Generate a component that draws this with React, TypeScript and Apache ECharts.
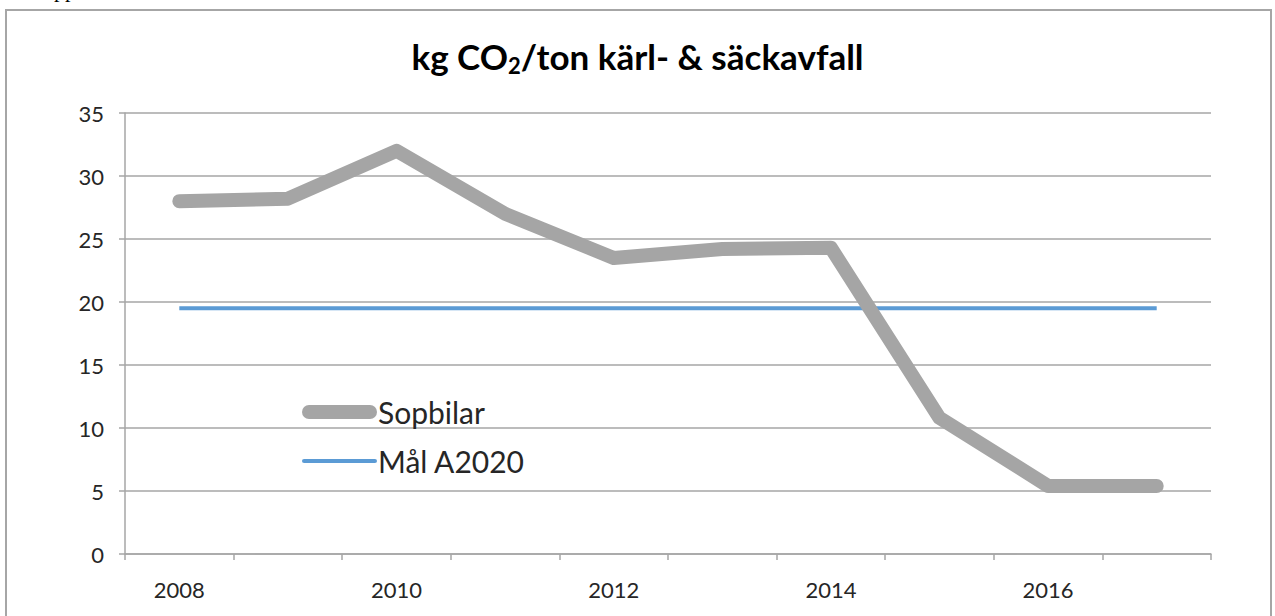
import React, { useEffect, useRef } from "react";
import * as echarts from "echarts";

const years = ["2008", "2009", "2010", "2011", "2012", "2013", "2014", "2015", "2016", "2017"];
const sopbilar = [28.0, 28.2, 32.0, 27.0, 23.5, 24.2, 24.3, 10.8, 5.4, 5.4];
const mal = [19.5, 19.5, 19.5, 19.5, 19.5, 19.5, 19.5, 19.5, 19.5, 19.5];
const seriesNames = ["Sopbilar", "Mål A2020"];

const FONT = "Lato, 'Open Sans', sans-serif";

export default function App() {
  const ref = useRef<HTMLDivElement>(null);
  useEffect(() => {
    if (!ref.current) return;
    const chart = echarts.init(ref.current, null, { renderer: "svg" });
    chart.setOption({
      animation: false,
      backgroundColor: "#ffffff",
      title: {
        text: "kg CO{sub|2}/ton kärl- & säckavfall",
        left: "center",
        top: 36,
        padding: 0,
        textStyle: {
          fontFamily: FONT,
          fontSize: 35,
          fontWeight: "bold",
          color: "#000000",
          rich: {
            sub: {
              fontFamily: FONT,
              fontSize: 22,
              fontWeight: "bold",
              color: "#000000",
              padding: [18, 0, 0, 0],
            },
          },
        },
      },
      graphic: [
        {
          type: "rect",
          shape: { x: 6, y: 10, width: 1265, height: 700 },
          style: { fill: "none", stroke: "#a6a6a6", lineWidth: 2 },
          silent: true,
        },
        {
          type: "text",
          x: 54,
          y: 0,
          style: { text: "pp", font: "22px serif", fill: "#000000", verticalAlign: "bottom" },
          silent: true,
        },
      ],
      legend: {
        orient: "vertical",
        left: 302,
        top: 397,
        padding: 0,
        itemWidth: 75,
        itemHeight: 14,
        itemGap: 19,
        data: [
          {
            name: seriesNames[0],
            icon: "path://M7,0 L68,0 A7,7 0 0 1 68,14 L7,14 A7,7 0 0 1 7,0 Z",
          },
          {
            name: seriesNames[1],
            icon: "path://M2,0 L71,0 A2,2 0 0 1 71,4 L2,4 A2,2 0 0 1 2,0 Z",
          },
        ],
        textStyle: { fontFamily: FONT, fontSize: 30, color: "#262626", padding: [0, 0, 0, -4] },
      },
      grid: { left: 125, right: 64, top: 113, bottom: 62, containLabel: false },
      xAxis: {
        type: "category",
        data: years,
        boundaryGap: true,
        axisLine: { lineStyle: { color: "#a6a6a6", width: 1.5 } },
        axisTick: { show: true, interval: 0, length: 6, lineStyle: { color: "#a6a6a6", width: 1.5 } },
        axisLabel: { interval: 1, margin: 24, fontFamily: FONT, fontSize: 22, color: "#262626" },
        splitLine: { show: false },
      },
      yAxis: {
        type: "value",
        min: 0,
        max: 35,
        interval: 5,
        axisLine: { show: true, lineStyle: { color: "#a6a6a6", width: 1.5 } },
        axisTick: { show: true, length: 6, lineStyle: { color: "#a6a6a6", width: 1.5 } },
        axisLabel: { margin: 21, fontFamily: FONT, fontSize: 22, color: "#262626" },
        splitLine: { lineStyle: { color: "#a6a6a6", width: 1.5 } },
      },
      series: [
        {
          name: seriesNames[0],
          type: "line",
          data: sopbilar,
          symbol: "none",
          lineStyle: { color: "#a5a5a5", width: 14, cap: "round", join: "round" },
          itemStyle: { color: "#a5a5a5" },
          z: 3,
        },
        {
          name: seriesNames[1],
          type: "line",
          data: mal,
          symbol: "none",
          lineStyle: { color: "#5b9bd5", width: 4 },
          itemStyle: { color: "#5b9bd5" },
          z: 2,
        },
      ],
    });
    return () => chart.dispose();
  }, []);
  return (
    <div
      ref={ref}
      style={{ position: "fixed", left: 0, top: 0, width: 1275, height: 616 }}
    />
  );
}
